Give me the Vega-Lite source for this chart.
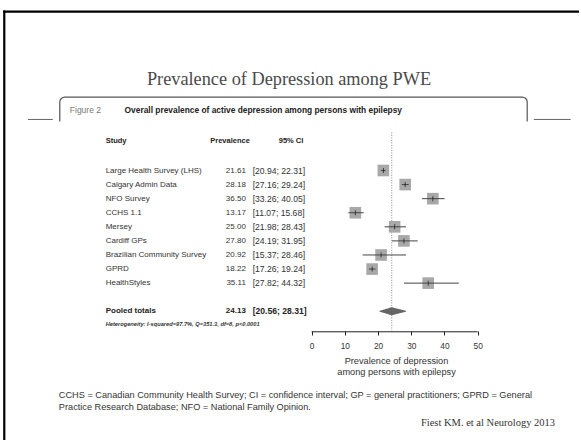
{
  "$schema": "https://vega.github.io/schema/vega-lite/v6.json",
  "width": 581,
  "height": 442,
  "autosize": {"type": "fit", "contains": "padding"},
  "padding": 0,
  "background": "white",
  "config": {"view": {"stroke": null}, "font": "Liberation Sans"},
  "datasets": {
    "studies": [
      {"study": "Large Health Survey (LHS)", "est": 21.61, "lo": 20.94, "hi": 22.31, "ci": "[20.94; 22.31]", "type": "study"},
      {"study": "Calgary Admin Data", "est": 28.18, "lo": 27.16, "hi": 29.24, "ci": "[27.16; 29.24]", "type": "study"},
      {"study": "NFO Survey", "est": 36.50, "lo": 33.26, "hi": 40.05, "ci": "[33.26; 40.05]", "type": "study"},
      {"study": "CCHS 1.1", "est": 13.17, "lo": 11.07, "hi": 15.68, "ci": "[11.07; 15.68]", "type": "study"},
      {"study": "Mersey", "est": 25.00, "lo": 21.98, "hi": 28.43, "ci": "[21.98; 28.43]", "type": "study"},
      {"study": "Cardiff GPs", "est": 27.80, "lo": 24.19, "hi": 31.95, "ci": "[24.19; 31.95]", "type": "study"},
      {"study": "Brazilian Community Survey", "est": 20.92, "lo": 15.37, "hi": 28.46, "ci": "[15.37; 28.46]", "type": "study"},
      {"study": "GPRD", "est": 18.22, "lo": 17.26, "hi": 19.24, "ci": "[17.26; 19.24]", "type": "study"},
      {"study": "HealthStyles", "est": 35.11, "lo": 27.82, "hi": 44.32, "ci": "[27.82; 44.32]", "type": "study"},
      {"study": "Pooled totals", "est": 24.13, "lo": 20.56, "hi": 28.31, "ci": "[20.56; 28.31]", "type": "pooled"}
    ]
  },
  "resolve": {"scale": {"y": "independent"}},
  "layer": [
    {
      "data": {"values": [{}]},
      "layer": [
        {"mark": {"type": "rule", "color": "#222", "strokeWidth": 1},
         "encoding": {"x": {"datum": 0, "type": "quantitative", "scale": {"domain": [-93.85, 80.52], "nice": false, "zero": false},
                            "axis": {"values": [0, 10, 20, 30, 40, 50], "domain": false, "grid": false, "orient": "bottom", "offset": -109,
                                     "ticks": true, "tickSize": 4, "tickColor": "#222", "tickWidth": 1, "labels": true, "labelFontSize": 8.3, "labelColor": "#333", "labelPadding": 6,
                                     "labelFlush": false,
                                     "title": ["Prevalence of depression", "among persons with epilepsy"], "titleFontSize": 9.2, "titleFontWeight": "normal",
                                     "titleColor": "#333", "titleX": 396, "titleY": 29.5, "titleBaseline": "middle", "titleAlign": "center", "titleLineHeight": 11}},
                      "x2": {"datum": 50},
                      "y": {"datum": 333.3, "type": "quantitative", "scale": {"domain": [0, 442], "reverse": true, "nice": false, "zero": false}, "axis": null}}},
        {"mark": {"type": "rule", "color": "#000", "strokeWidth": 2.2},
         "encoding": {"x": {"datum": -92.56, "type": "quantitative", "scale": {"domain": [-93.85, 80.52], "nice": false, "zero": false}},
                      "y": {"datum": 10.6, "type": "quantitative", "scale": {"domain": [0, 442], "reverse": true, "nice": false, "zero": false}, "axis": null},
                      "y2": {"datum": 442}}},
        {"mark": {"type": "rule", "color": "#000", "strokeWidth": 2.2},
         "encoding": {"x": {"datum": -92.9, "type": "quantitative", "scale": {"domain": [-93.85, 80.52], "nice": false, "zero": false}},
                      "x2": {"datum": 80.52},
                      "y": {"datum": 11.7, "type": "quantitative", "scale": {"domain": [0, 442], "reverse": true, "nice": false, "zero": false}, "axis": null}}},
        {"mark": {"type": "text", "text": "Prevalence of Depression among PWE", "font": "Liberation Serif", "fontSize": 18.3, "color": "#4a4a4a", "align": "center", "baseline": "middle"},
         "encoding": {"x": {"datum": -6.81, "type": "quantitative", "scale": {"domain": [-93.85, 80.52], "nice": false, "zero": false}},
                      "y": {"datum": 80, "type": "quantitative", "scale": {"domain": [0, 442], "reverse": true, "nice": false, "zero": false}, "axis": null}}},
        {"mark": {"type": "rect", "cornerRadius": 5, "filled": false, "stroke": "#555", "strokeWidth": 1.2},
         "encoding": {"x": {"datum": -75.84, "type": "quantitative", "scale": {"domain": [-93.85, 80.52], "nice": false, "zero": false}},
                      "x2": {"datum": 64.92},
                      "y": {"datum": 97.5, "type": "quantitative", "scale": {"domain": [0, 442], "reverse": true, "nice": false, "zero": false}, "axis": null},
                      "y2": {"datum": 135}}},
        {"mark": {"type": "rect", "fill": "white", "strokeWidth": 0},
         "encoding": {"x": {"datum": -77, "type": "quantitative", "scale": {"domain": [-93.85, 80.52], "nice": false, "zero": false}},
                      "x2": {"datum": 66},
                      "y": {"datum": 122, "type": "quantitative", "scale": {"domain": [0, 442], "reverse": true, "nice": false, "zero": false}, "axis": null},
                      "y2": {"datum": 137}}},
        {"mark": {"type": "rule", "color": "#666", "strokeWidth": 1},
         "encoding": {"x": {"datum": -85.45, "type": "quantitative", "scale": {"domain": [-93.85, 80.52], "nice": false, "zero": false}},
                      "x2": {"datum": -77.95},
                      "y": {"datum": 120, "type": "quantitative", "scale": {"domain": [0, 442], "reverse": true, "nice": false, "zero": false}, "axis": null}}},
        {"mark": {"type": "rule", "color": "#666", "strokeWidth": 1},
         "encoding": {"x": {"datum": 66.92, "type": "quantitative", "scale": {"domain": [-93.85, 80.52], "nice": false, "zero": false}},
                      "x2": {"datum": 78.02},
                      "y": {"datum": 120, "type": "quantitative", "scale": {"domain": [0, 442], "reverse": true, "nice": false, "zero": false}, "axis": null}}},
        {"mark": {"type": "text", "text": "Figure 2", "fontSize": 8.5, "color": "#777", "align": "left", "baseline": "middle"},
         "encoding": {"x": {"datum": -72.83, "type": "quantitative", "scale": {"domain": [-93.85, 80.52], "nice": false, "zero": false}},
                      "y": {"datum": 110, "type": "quantitative", "scale": {"domain": [0, 442], "reverse": true, "nice": false, "zero": false}, "axis": null}}},
        {"mark": {"type": "text", "text": "Overall prevalence of active depression among persons with epilepsy", "fontSize": 8.4, "fontWeight": "bold", "color": "#222", "align": "left", "baseline": "middle"},
         "encoding": {"x": {"datum": -56.33, "type": "quantitative", "scale": {"domain": [-93.85, 80.52], "nice": false, "zero": false}},
                      "y": {"datum": 110, "type": "quantitative", "scale": {"domain": [0, 442], "reverse": true, "nice": false, "zero": false}, "axis": null}}},
        {"mark": {"type": "text", "text": "Study", "fontSize": 7.5, "fontWeight": "bold", "color": "#222", "align": "left", "baseline": "middle"},
         "encoding": {"x": {"datum": -62.03, "type": "quantitative", "scale": {"domain": [-93.85, 80.52], "nice": false, "zero": false}},
                      "y": {"datum": 142, "type": "quantitative", "scale": {"domain": [0, 442], "reverse": true, "nice": false, "zero": false}, "axis": null}}},
        {"mark": {"type": "text", "text": "Prevalence", "fontSize": 7.5, "fontWeight": "bold", "color": "#222", "align": "right", "baseline": "middle"},
         "encoding": {"x": {"datum": -18.61, "type": "quantitative", "scale": {"domain": [-93.85, 80.52], "nice": false, "zero": false}},
                      "y": {"datum": 142, "type": "quantitative", "scale": {"domain": [0, 442], "reverse": true, "nice": false, "zero": false}, "axis": null}}},
        {"mark": {"type": "text", "text": "95% CI", "fontSize": 7.5, "fontWeight": "bold", "color": "#222", "align": "center", "baseline": "middle"},
         "encoding": {"x": {"datum": -6.2, "type": "quantitative", "scale": {"domain": [-93.85, 80.52], "nice": false, "zero": false}},
                      "y": {"datum": 142, "type": "quantitative", "scale": {"domain": [0, 442], "reverse": true, "nice": false, "zero": false}, "axis": null}}},
        {"data": {"name": "studies"},
         "transform": [{"filter": "datum.type === 'pooled'"}],
         "mark": {"type": "rule", "color": "#888", "strokeWidth": 1, "strokeDash": [1, 1.5]},
         "encoding": {"x": {"field": "est", "type": "quantitative", "scale": {"domain": [-93.85, 80.52], "nice": false, "zero": false}},
                      "y": {"datum": 133, "type": "quantitative", "scale": {"domain": [0, 442], "reverse": true, "nice": false, "zero": false}, "axis": null},
                      "y2": {"datum": 332}}},
        {"mark": {"type": "text", "text": "Heterogeneity: I-squared=97.7%, Q=351.3, df=8, p<0.0001", "fontSize": 5.7, "fontStyle": "italic", "fontWeight": "bold", "color": "#333", "align": "left", "baseline": "middle"},
         "encoding": {"x": {"datum": -62.03, "type": "quantitative", "scale": {"domain": [-93.85, 80.52], "nice": false, "zero": false}},
                      "y": {"datum": 325.7, "type": "quantitative", "scale": {"domain": [0, 442], "reverse": true, "nice": false, "zero": false}, "axis": null}}},
        {"mark": {"type": "text", "text": ["CCHS = Canadian Community Health Survey; CI = confidence interval; GP = general practitioners; GPRD = General", "Practice Research Database; NFO = National Family Opinion."], "fontSize": 9.2, "lineHeight": 11.5, "color": "#333", "align": "left", "baseline": "middle"},
         "encoding": {"x": {"datum": -76.13, "type": "quantitative", "scale": {"domain": [-93.85, 80.52], "nice": false, "zero": false}},
                      "y": {"datum": 397, "type": "quantitative", "scale": {"domain": [0, 442], "reverse": true, "nice": false, "zero": false}, "axis": null}}},
        {"mark": {"type": "text", "text": "Fiest KM. et al Neurology 2013", "font": "Liberation Serif", "fontSize": 10.5, "color": "#333", "align": "right", "baseline": "middle"},
         "encoding": {"x": {"datum": 73.32, "type": "quantitative", "scale": {"domain": [-93.85, 80.52], "nice": false, "zero": false}},
                      "y": {"datum": 425, "type": "quantitative", "scale": {"domain": [0, 442], "reverse": true, "nice": false, "zero": false}, "axis": null}}}
      ]
    },
    {
      "data": {"name": "studies"},
      "encoding": {
        "y": {"field": "study", "type": "ordinal", "axis": null,
              "scale": {"type": "point", "padding": 0, "range": [170.5, 311.3],
                        "domain": ["Large Health Survey (LHS)", "Calgary Admin Data", "NFO Survey", "CCHS 1.1", "Mersey", "Cardiff GPs", "Brazilian Community Survey", "GPRD", "HealthStyles", " ", "Pooled totals"]}}
      },
      "layer": [
        {"transform": [{"filter": "datum.type === 'study'"}],
         "mark": {"type": "square", "size": 135, "color": "#a8a8a8", "opacity": 1, "filled": true, "strokeWidth": 0},
         "encoding": {"x": {"field": "est", "type": "quantitative", "scale": {"domain": [-93.85, 80.52], "nice": false, "zero": false}}}},
        {"transform": [{"filter": "datum.type === 'study'"}],
         "mark": {"type": "rule", "color": "#444", "strokeWidth": 1},
         "encoding": {"x": {"field": "lo", "type": "quantitative", "scale": {"domain": [-93.85, 80.52], "nice": false, "zero": false}},
                      "x2": {"field": "hi"}}},
        {"transform": [{"filter": "datum.type === 'study'"}],
         "mark": {"type": "tick", "orient": "vertical", "size": 5, "thickness": 1, "color": "#111"},
         "encoding": {"x": {"field": "est", "type": "quantitative", "scale": {"domain": [-93.85, 80.52], "nice": false, "zero": false}}}},
        {"transform": [{"filter": "datum.type === 'pooled'"}, {"fold": ["lo", "est", "hi"], "as": ["k", "v"]}],
         "mark": {"type": "trail", "color": "#666"},
         "encoding": {"x": {"field": "v", "type": "quantitative", "scale": {"domain": [-93.85, 80.52], "nice": false, "zero": false}},
                      "order": {"field": "v", "type": "quantitative"},
                      "size": {"condition": {"test": "datum.k === 'est'", "value": 8}, "value": 0}}},
        {"transform": [{"filter": "datum.type === 'study'"}],
         "mark": {"type": "text", "fontSize": 8, "color": "#333", "align": "left", "baseline": "middle"},
         "encoding": {"x": {"datum": -62.03, "type": "quantitative", "scale": {"domain": [-93.85, 80.52], "nice": false, "zero": false}},
                      "text": {"field": "study"}}},
        {"transform": [{"filter": "datum.type === 'study'"}],
         "mark": {"type": "text", "fontSize": 8, "color": "#333", "align": "right", "baseline": "middle"},
         "encoding": {"x": {"datum": -19.81, "type": "quantitative", "scale": {"domain": [-93.85, 80.52], "nice": false, "zero": false}},
                      "text": {"field": "est", "format": ".2f"}}},
        {"transform": [{"filter": "datum.type === 'study'"}],
         "mark": {"type": "text", "fontSize": 8.6, "color": "#333", "align": "left", "baseline": "middle"},
         "encoding": {"x": {"datum": -17.77, "type": "quantitative", "scale": {"domain": [-93.85, 80.52], "nice": false, "zero": false}},
                      "text": {"field": "ci"}}},
        {"transform": [{"filter": "datum.type === 'pooled'"}],
         "mark": {"type": "text", "fontSize": 8, "fontWeight": "bold", "color": "#222", "align": "left", "baseline": "middle"},
         "encoding": {"x": {"datum": -62.03, "type": "quantitative", "scale": {"domain": [-93.85, 80.52], "nice": false, "zero": false}},
                      "text": {"field": "study"}}},
        {"transform": [{"filter": "datum.type === 'pooled'"}],
         "mark": {"type": "text", "fontSize": 8, "fontWeight": "bold", "color": "#222", "align": "right", "baseline": "middle"},
         "encoding": {"x": {"datum": -19.81, "type": "quantitative", "scale": {"domain": [-93.85, 80.52], "nice": false, "zero": false}},
                      "text": {"field": "est", "format": ".2f"}}},
        {"transform": [{"filter": "datum.type === 'pooled'"}],
         "mark": {"type": "text", "fontSize": 8.6, "fontWeight": "bold", "color": "#222", "align": "left", "baseline": "middle"},
         "encoding": {"x": {"datum": -17.77, "type": "quantitative", "scale": {"domain": [-93.85, 80.52], "nice": false, "zero": false}},
                      "text": {"field": "ci"}}}
      ]
    }
  ]
}
